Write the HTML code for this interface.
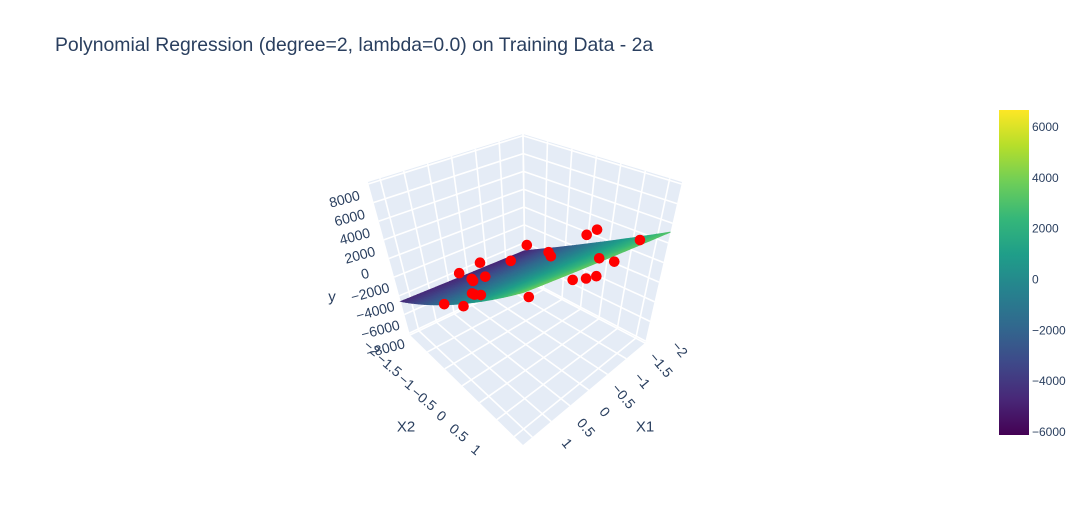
<!DOCTYPE html>
<html><head><meta charset="utf-8"><style>
html,body{margin:0;padding:0;background:#fff;}
svg{display:block;font-family:"Liberation Sans",Arial,sans-serif;}
</style></head><body>
<svg id="chart" width="1090" height="525" viewBox="0 0 1090 525">
<text x="55" y="51" font-size="19.4" fill="#2a3f5f">Polynomial Regression (degree=2, lambda=0.0) on Training Data - 2a</text>
<g id="scene"></g>
<g id="cbar"></g>
</svg>
<script>
const x1Data=[0.67,0.42,0.42,0.275,0.26,0.155,0.106,0.29,0.18,0.26,-0.21,-0.4,-0.42,-0.65,-0.675,-1.07,-1.18,-1.24,-0.95,-1.11,-1.23,-1.42,-1.675];
const x2Data=[-1.42,-1.17,-1.17,-1.025,-1.01,-0.905,-0.856,-1.04,-0.93,-1.01,-0.54,-0.35,-0.33,-0.1,-0.07,0.32,0.43,0.49,0.2,0.36,0.48,0.67,0.925];
const yData=[-4200,-4200,-880,-1370,-1560,290,-1075,-2830,-2930,-2930,580,2150,-2930,1460,1070,3120,3610,780,-1270,-1170,-980,390,2440];
const surfCoef=[320,149,2518,28];
const x1Ticks=[-2,-1.5,-1,-0.5,0,0.5,1];
const x2Ticks=[-2,-1.5,-1,-0.5,0,0.5,1];
const zTicks=[-8000,-6000,-4000,-2000,0,2000,4000,6000,8000];
const cbTicks=[-6000,-4000,-2000,0,2000,4000,6000];
const X1R=[-2,1.25],X2R=[-2,1.25],ZR=[-8200,8200],CR=[-6120,6670];
const NS='http://www.w3.org/2000/svg';
const F={b:[525,280],l:[410,335],r:[645,343],f:[523,445]};
const T={b:[523,134],l:[368,182],r:[682,182],f:[523,235]};
function bil(c,p,q,i){return c.b[i]*(1-p)*(1-q)+c.l[i]*p*(1-q)+c.r[i]*(1-p)*q+c.f[i]*p*q;}
function proj(x1,x2,z){
  const p=(x1-X1R[0])/(X1R[1]-X1R[0]),q=(x2-X2R[0])/(X2R[1]-X2R[0]),r=(z-ZR[0])/(ZR[1]-ZR[0]);
  return [bil(F,p,q,0)*(1-r)+bil(T,p,q,0)*r, bil(F,p,q,1)*(1-r)+bil(T,p,q,1)*r];
}
const vir=['#440154','#482878','#3e4989','#31688e','#26828e','#1f9e89','#35b779','#6ece58','#b5de2b','#fde725'];
function hx(h){return [1,3,5].map(i=>parseInt(h.substr(i,2),16));}
function viridis(t){t=Math.max(0,Math.min(1,t));const s=t*9,i=Math.min(8,Math.floor(s)),f=s-i;const a=hx(vir[i]),b=hx(vir[i+1]);return 'rgb('+a.map((v,k)=>Math.round(v+(b[k]-v)*f)).join(',')+')';}
function el(tag,attrs,parent){const e=document.createElementNS(NS,tag);for(const k in attrs)e.setAttribute(k,attrs[k]);parent.appendChild(e);return e;}
const sc=document.getElementById('scene');
function poly(pts,fill,name){const e=el('polygon',{points:pts.map(p=>p.join(',')).join(' '),fill:fill},sc);

return e;}
function line(a,b,name){const e=el('line',{x1:a[0],y1:a[1],x2:b[0],y2:b[1],stroke:'#fff','stroke-width':1.6},sc);

}
poly([proj(X1R[0],X2R[0],ZR[0]),proj(X1R[1],X2R[0],ZR[0]),proj(X1R[1],X2R[0],ZR[1]),proj(X1R[0],X2R[0],ZR[1])],'#E5ECF6','left-wall');
poly([proj(X1R[0],X2R[0],ZR[0]),proj(X1R[0],X2R[1],ZR[0]),proj(X1R[0],X2R[1],ZR[1]),proj(X1R[0],X2R[0],ZR[1])],'#E5ECF6','right-wall');
poly([proj(X1R[0],X2R[0],ZR[0]),proj(X1R[1],X2R[0],ZR[0]),proj(X1R[1],X2R[1],ZR[0]),proj(X1R[0],X2R[1],ZR[0])],'#E5ECF6','floor');
x1Ticks.forEach(t=>{line(proj(t,X2R[0],ZR[0]),proj(t,X2R[1],ZR[0]),'floor-grid-x1');line(proj(t,X2R[0],ZR[0]),proj(t,X2R[0],ZR[1]),'wall-grid-x1');});
x2Ticks.forEach(t=>{line(proj(X1R[0],t,ZR[0]),proj(X1R[1],t,ZR[0]),'floor-grid-x2');line(proj(X1R[0],t,ZR[0]),proj(X1R[0],t,ZR[1]),'wall-grid-x2');});
zTicks.forEach(t=>{line(proj(X1R[0],X2R[0],t),proj(X1R[1],X2R[0],t),'wall-grid-z');line(proj(X1R[0],X2R[0],t),proj(X1R[0],X2R[1],t),'wall-grid-z');});
function txt(x,y,s,size,rot,name){const e=el('text',{x:x,y:y,'font-size':size,fill:'#2a3f5f','text-anchor':'middle','dominant-baseline':'central',transform:'rotate('+rot+' '+x+' '+y+')'},sc);e.textContent=s;

}
function fmt(v){return v<0?'\u2212'+Math.abs(v):''+v;}
zTicks.forEach(t=>{const p=proj(X1R[1],X2R[0],t);txt(p[0]-24,p[1]+15,fmt(t),14,-15,'z-tick-label');});
x2Ticks.forEach(t=>{const p=proj(X1R[1],t,ZR[0]);txt(p[0]-38,p[1]+13,fmt(t),14,40,'x2-tick-label');});
x1Ticks.forEach(t=>{const p=proj(t,X2R[1],ZR[0]);txt(p[0]+35,p[1]+6,fmt(t),14,50,'x1-tick-label');});
txt(332,297,'y',15,0,'z-axis-title');
txt(406,427,'X2',15,0,'x2-axis-title');
txt(645,427,'X1',15,0,'x1-axis-title');
function surf(u,v){return surfCoef[0]+surfCoef[1]*u+surfCoef[2]*v+surfCoef[3]*u*v;}
const N=36,quads=[];
for(let i=0;i<N;i++)for(let j=0;j<N;j++){
 const u0=X1R[0]+(X1R[1]-X1R[0])*i/N,u1=X1R[0]+(X1R[1]-X1R[0])*(i+1)/N,v0=X2R[0]+(X2R[1]-X2R[0])*j/N,v1=X2R[0]+(X2R[1]-X2R[0])*(j+1)/N;
 const zc=surf((u0+u1)/2,(v0+v1)/2);
 quads.push({d:i+j,pts:[proj(u0,v0,surf(u0,v0)),proj(u1,v0,surf(u1,v0)),proj(u1,v1,surf(u1,v1)),proj(u0,v1,surf(u0,v1))],c:viridis((zc-CR[0])/(CR[1]-CR[0]))});
}
quads.sort((a,b)=>a.d-b.d);
const sg=el('g',{},sc);


quads.forEach(q=>{el('polygon',{points:q.pts.map(p=>p.join(',')).join(' '),fill:q.c,stroke:q.c,'stroke-width':0.8},sg);});
x1Data.forEach((x,i)=>{const p=proj(x,x2Data[i],yData[i]);const c=el('circle',{cx:p[0],cy:p[1],r:5.3,fill:'#ff0000'},sc);

});
const cb=document.getElementById('cbar');
const defs=el('defs',{},cb);const lg=el('linearGradient',{id:'vg',x1:0,y1:1,x2:0,y2:0},defs);
vir.forEach((c,i)=>el('stop',{offset:i/9,'stop-color':c},lg));
const cbTop=110,cbBot=435;
const rect=el('rect',{x:999,y:cbTop,width:30,height:cbBot-cbTop,fill:'url(#vg)'},cb);


cbTicks.forEach(t=>{const y=cbBot-(t-CR[0])/(CR[1]-CR[0])*(cbBot-cbTop);const e=el('text',{x:1032,y:y+4,'font-size':12,fill:'#2a3f5f'},cb);e.textContent=fmt(t);

});
</script>
</body></html>
